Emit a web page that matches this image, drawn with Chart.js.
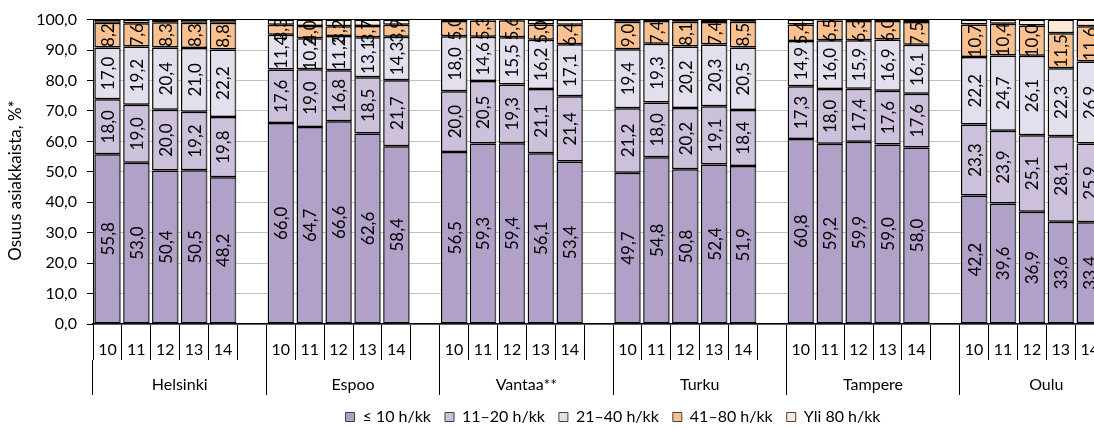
<!DOCTYPE html>
<html>
<head>
<meta charset="utf-8">
<script src="https://cdn.jsdelivr.net/npm/chart.js@4"></script>
<style>
  body { margin: 0; background: #fff; overflow: hidden; }
  #wrap { position: relative; width: 1136px; height: 430px; }
</style>
</head>
<body>
<div id="wrap"><canvas id="myChart"></canvas></div>
<script>
const cities = ['Helsinki', 'Espoo', 'Vantaa**', 'Turku', 'Tampere', 'Oulu'];
const years = ['10', '11', '12', '13', '14'];
const seriesNames = ['≤ 10 h/kk', '11–20 h/kk', '21–40 h/kk', '41–80 h/kk', 'Yli 80 h/kk'];
const seriesColors = ['#B1A0C7', '#CCC0DA', '#E4DFEC', '#FAC090', '#FDE9D9'];
const yTicks = [0, 10, 20, 30, 40, 50, 60, 70, 80, 90, 100];

// one row per city, one value per year
const upTo10h = [
    [55.8, 53.0, 50.4, 50.5, 48.2],
    [66.0, 64.7, 66.6, 62.6, 58.4],
    [56.5, 59.3, 59.4, 56.1, 53.4],
    [49.7, 54.8, 50.8, 52.4, 51.9],
    [60.8, 59.2, 59.9, 59.0, 58.0],
    [42.2, 39.6, 36.9, 33.6, 33.4],
];
const h11to20 = [
    [18.0, 19.0, 20.0, 19.2, 19.8],
    [17.6, 19.0, 16.8, 18.5, 21.7],
    [20.0, 20.5, 19.3, 21.1, 21.4],
    [21.2, 18.0, 20.2, 19.1, 18.4],
    [17.3, 18.0, 17.4, 17.6, 17.6],
    [23.3, 23.9, 25.1, 28.1, 25.9],
];
const h21to40 = [
    [17.0, 19.2, 20.4, 21.0, 22.2],
    [11.4, 10.2, 11.2, 13.1, 14.3],
    [18.0, 14.6, 15.5, 16.2, 17.1],
    [19.4, 19.3, 20.2, 20.3, 20.5],
    [14.9, 16.0, 15.9, 16.9, 16.1],
    [22.2, 24.7, 26.1, 22.3, 26.9],
];
const h41to80 = [
    [8.2, 7.6, 8.3, 8.3, 8.8],
    [3.3, 4.0, 3.2, 3.7, 3.9],
    [5.0, 5.3, 5.6, 5.0, 6.4],
    [9.0, 7.4, 8.1, 7.4, 8.5],
    [5.4, 6.5, 6.3, 6.0, 7.5],
    [10.7, 10.4, 10.0, 11.5, 11.6],
];
const over80h = [
    [1.0, 1.2, 0.9, 1.0, 1.0],
    [1.7, 2.1, 2.2, 2.1, 1.7],
    [0.5, 0.3, 0.2, 1.6, 1.7],
    [0.7, 0.5, 0.7, 0.8, 0.7],
    [1.6, 0.3, 0.5, 0.5, 0.8],
    [1.6, 1.4, 1.9, 4.5, 2.2],
];

// each city gets its five years plus one empty slot
const flatten = (rows) => rows.flatMap((r) => [...r, null]);
const slotLabels = cities.flatMap(() => [...years, '']);
const fmt = (v) => v.toFixed(1).replace('.', ',');

const allSeries = [upTo10h, h11to20, h21to40, h41to80, over80h];

// gray drop shadow to the right of the bars, then the rotated value labels
const barLabels = {
    id: 'barLabels',
    beforeDatasetsDraw(chart) {
        const ctx = chart.ctx;
        ctx.save();
        ctx.shadowColor = 'rgba(90,90,90,0.85)';
        ctx.shadowOffsetX = 2.5;
        ctx.shadowOffsetY = 0;
        ctx.shadowBlur = 0;
    },
    afterDatasetsDraw(chart) {
        const ctx = chart.ctx;
        ctx.restore();
        const area = chart.chartArea;
        ctx.save();
        ctx.beginPath();
        ctx.rect(area.left, area.top, area.right - area.left, area.bottom - area.top);
        ctx.clip();
        ctx.font = '17px Lato, "DejaVu Sans", sans-serif';
        ctx.fillStyle = '#000';
        ctx.textAlign = 'center';
        ctx.textBaseline = 'middle';
        for (let i = 0; i < 4; i++) {
            const meta = chart.getDatasetMeta(i);
            meta.data.forEach((bar, j) => {
                const v = chart.data.datasets[i].data[j];
                if (v == null) return;
                const p = bar.getProps(['x', 'y', 'base'], true);
                ctx.save();
                ctx.translate(p.x, (p.y + p.base) / 2);
                ctx.rotate(-Math.PI / 2);
                ctx.fillText(fmt(v), 0, 1);
                ctx.restore();
            });
        }
        ctx.restore();
    },
};

Chart.defaults.font.family = 'Lato, "DejaVu Sans", sans-serif';
Chart.defaults.font.size = 16;
Chart.defaults.color = '#000';

const ctx = document.getElementById('myChart').getContext('2d');
const myChart = new Chart(ctx, {
    type: 'bar',
    data: {
        labels: slotLabels,
        datasets: allSeries.map((rows, i) => ({
            label: seriesNames[i],
            data: flatten(rows),
            backgroundColor: seriesColors[i],
            borderColor: '#000',
            borderWidth: 1.5,
            borderSkipped: false,
            barPercentage: 0.91,
            categoryPercentage: 1.0,
        })),
    },
    options: {
        responsive: true,
        maintainAspectRatio: false,
        animation: false,
        layout: { padding: { top: 14, right: 3, left: 0, bottom: -5 } },
        plugins: {
            tooltip: { enabled: false },
            legend: {
                position: 'bottom',
                fullSize: false,
                labels: {
                    boxWidth: 9,
                    boxHeight: 9,
                    padding: 14,
                    color: '#000',
                    font: { size: 16 },
                    generateLabels: (chart) => chart.data.datasets.map((ds, i) => ({
                        text: ds.label,
                        fillStyle: ds.backgroundColor,
                        strokeStyle: '#404040',
                        lineWidth: 1,
                        datasetIndex: i,
                    })),
                },
            },
        },
        scales: {
            x: {
                stacked: true,
                offset: true,
                weight: 0,
                grid: { offset: true, drawOnChartArea: false, tickLength: 36, color: '#000', lineWidth: 1 },
                border: { color: '#000', width: 1.5 },
                ticks: { padding: -20, autoSkip: false, maxRotation: 0 },
                afterFit: (s) => { s.height = 36; },
            },
            x2: {
                type: 'category',
                labels: cities,
                position: 'bottom',
                offset: true,
                weight: 1,
                grid: { offset: true, drawOnChartArea: false, tickLength: 35, color: '#000', lineWidth: 1 },
                border: { display: false },
                ticks: { padding: -20, autoSkip: false, maxRotation: 0 },
                afterFit: (s) => { s.height = 35; },
            },
            y: {
                stacked: true,
                min: 0,
                max: 100,
                afterBuildTicks: (s) => { s.ticks = yTicks.map((v) => ({ value: v })); },
                grid: {
                    color: (c) => (c.tick && c.tick.value === 100 ? '#000' : '#c0c0c0'),
                    tickColor: '#000',
                    tickLength: 6,
                    lineWidth: 1,
                },
                border: { color: '#000', width: 1 },
                ticks: { padding: 10, callback: (v) => fmt(v) },
                title: {
                    display: true,
                    text: 'Osuus asiakkaista, %*    ',
                    font: { size: 17 },
                    padding: { top: 5, bottom: 0 },
                },
                afterFit: (s) => { s.width = 93; },
            },
        },
    },
    plugins: [barLabels],
});
</script>
</body>
</html>
